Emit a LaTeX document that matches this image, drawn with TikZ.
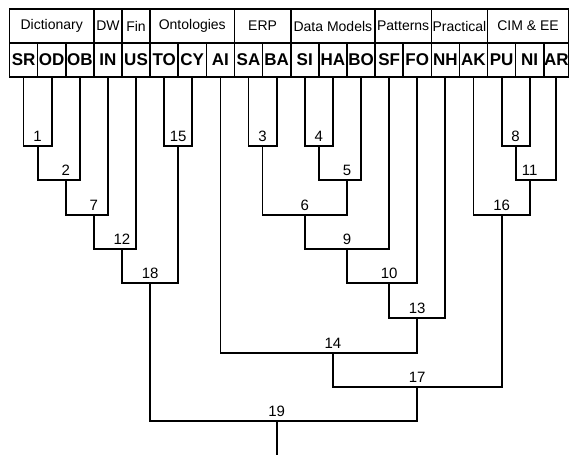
\documentclass[tikz,border=0pt]{standalone}
\usepackage{fontspec}
\setmainfont{Liberation Sans}
\usetikzlibrary{positioning}
\tikzset{leaf/.style = {draw,line width=1.6pt,minimum width=28.12pt,minimum height=34pt,inner sep=0pt,font=\fontsize{17}{17}\selectfont\bfseries}}
\tikzset{group/.style = {draw,line width=1.6pt,minimum height=34pt,inner sep=0pt,font=\fontsize{14}{14}\selectfont}}
\tikzset{num/.style = {anchor=south,inner sep=0pt,yshift=4pt,font=\fontsize{15}{15}\selectfont}}
\tikzset{branch/.style = {line width=1.8pt}}

\begin{document}
\begin{tikzpicture}[x=1pt,y=-1pt]
        \useasboundingbox (0,0) rectangle (571,457);
        % groups
        \node[group,minimum width=84.36pt] (dict) at (51.68,26) {Dictionary};
        \node[group,minimum width=28.12pt] (dw) at (107.92,26) {DW};
        \node[group,minimum width=28.12pt] (fin) at (136.04,26) {Fin};
        \node[group,minimum width=84.36pt] (onto) at (192.28,26) {Ontologies};
        \node[group,minimum width=56.24pt] (erp) at (262.58,26) {ERP};
        \node[group,minimum width=84.36pt] (data) at (332.88,26) {Data Models};
        \node[group,minimum width=56.24pt] (patt) at (403.18,26) {Patterns};
        \node[group,minimum width=56.24pt] (prac) at (459.42,26) {Practical};
        \node[group,minimum width=80.96pt] (cim) at (528.02,26) {CIM \& EE};
        % leaves
        \foreach \n [count=\i from 0] in {SR,OD,OB,IN,US,TO,CY,AI,SA,BA,SI,HA,BO,SF,FO,NH,AK,PU,NI}
            \node[leaf] (\n) at ({23.56+28.12*\i},60) {\n};
        \node[leaf,minimum width=24.4pt] (AR) at (556.3,60) {AR};
        % clusters
        \foreach \k/\h/\y in {1/2/146, 2/4/180, 7/6/215, 12/8/249, 15/12/146, 18/10/283,
                3/18/146, 4/22/146, 5/24/180, 6/21/215, 9/24/249, 10/27/283, 13/29/318,
                14/23/353, 8/36/146, 11/37/180, 16/35/215, 17/29/387, 19/19/421}
            \coordinate (c\k) at ({9.5+14.06*\h},\y);
        \coordinate (root) at ({9.5+14.06*19},455);
        \foreach \l/\p/\r in {SR.south/c1/OD.south, c1/c2/OB.south, c2/c7/IN.south,
                c7/c12/US.south, TO.south/c15/CY.south, c12/c18/c15,
                SA.south/c3/BA.south, SI.south/c4/HA.south, c4/c5/BO.south, c3/c6/c5,
                c6/c9/SF.south, c9/c10/FO.south, c10/c13/NH.south, AI.south/c14/c13,
                PU.south/c8/NI.south, c8/c11/AR.south, AK.south/c16/c11,
                c14/c17/c16, c18/c19/c17}
            \draw[branch] (\l) |- (\p) -| (\r);
        \draw[branch] (c19) -- (root);
        \foreach \k in {1,...,19}
            \node[num] (n\k) at (c\k) {\k};
    \end{tikzpicture}
\end{document}
